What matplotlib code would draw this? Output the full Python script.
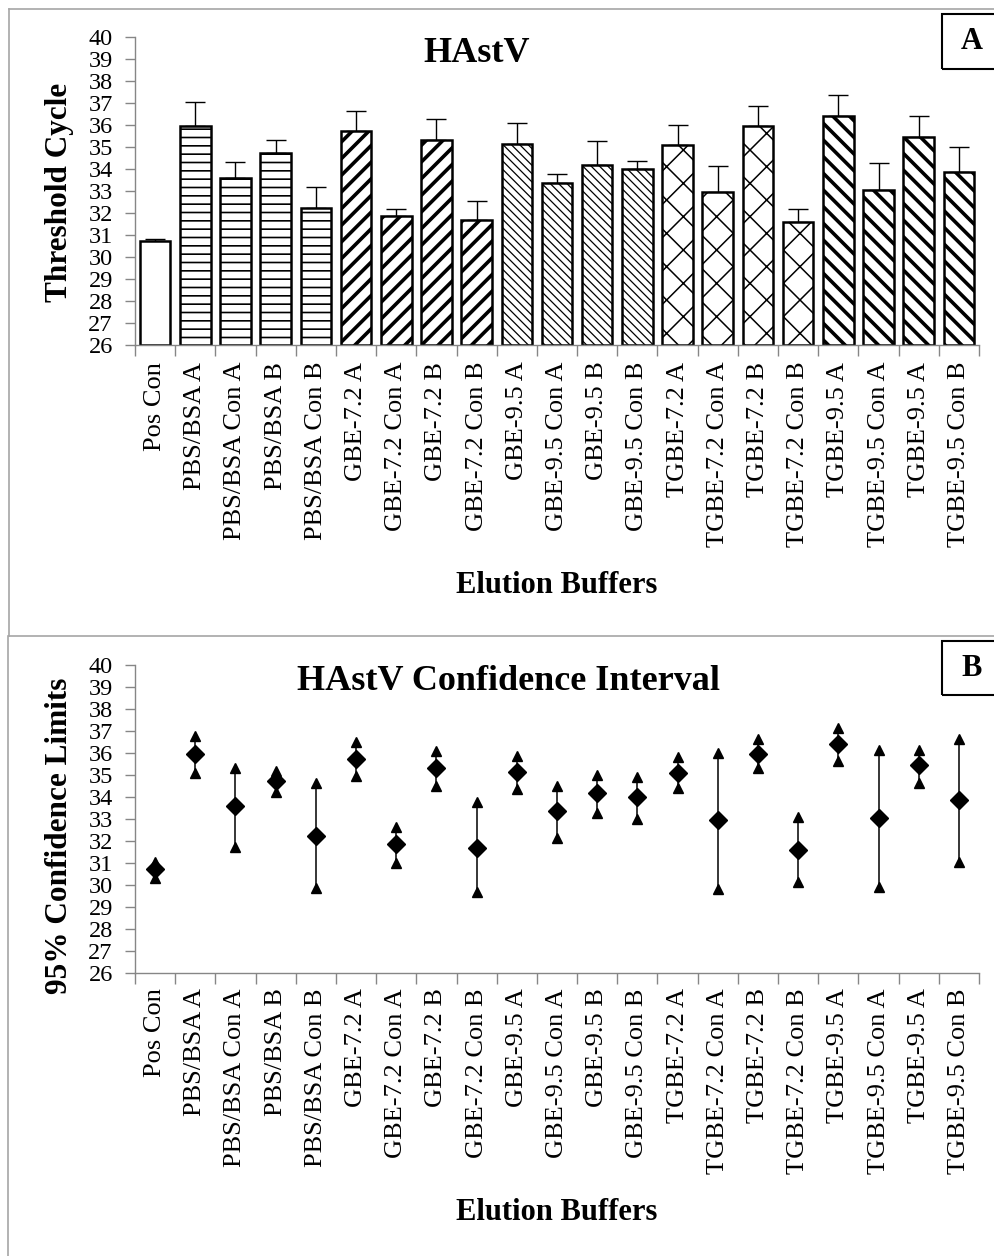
import matplotlib.pyplot as plt
from matplotlib.lines import Line2D
from matplotlib.patches import Rectangle
import numpy as np

plt.rcParams['font.family'] = ['Liberation Serif', 'DejaVu Serif']

buffers = ["Pos Con", "PBS/BSA A", "PBS/BSA Con A", "PBS/BSA B", "PBS/BSA Con B",
           "GBE-7.2 A", "GBE-7.2 Con A", "GBE-7.2 B", "GBE-7.2 Con B",
           "GBE-9.5 A", "GBE-9.5 Con A", "GBE-9.5 B", "GBE-9.5 Con B",
           "TGBE-7.2 A", "TGBE-7.2 Con A", "TGBE-7.2 B", "TGBE-7.2 Con B",
           "TGBE-9.5 A", "TGBE-9.5 Con A", "TGBE-9.5 A", "TGBE-9.5 Con B"]
mean_ct = [30.72, 35.96, 33.57, 34.74, 32.24,
           35.73, 31.88, 35.32, 31.70,
           35.14, 33.35, 34.17, 33.99,
           35.08, 32.94, 35.97, 31.60,
           36.42, 33.05, 35.45, 33.86]
sd_ct = [0.08, 1.07, 0.73, 0.59, 0.95,
         0.91, 0.30, 0.97, 0.83,
         0.95, 0.42, 1.10, 0.36,
         0.91, 1.18, 0.88, 0.59,
         0.94, 1.24, 0.95, 1.14]
ci_upper = [31.05, 36.77, 35.30, 35.20, 34.62,
            36.51, 32.65, 36.09, 33.76,
            35.88, 34.52, 35.00, 34.92,
            35.80, 35.98, 36.64, 33.08,
            37.15, 36.14, 36.14, 36.62]
ci_lower = [30.30, 35.10, 31.74, 34.24, 29.85,
            34.95, 31.01, 34.50, 29.67,
            34.35, 32.12, 33.29, 33.00,
            34.41, 29.80, 35.33, 30.15,
            35.64, 29.92, 34.62, 31.06]

# fill patterns per group
hatches = [''] + ['--'] * 4 + ['//'] * 4 + ['\\\\\\\\'] * 4 + ['x'] * 4 + ['\\\\'] * 4
hatch_lw = [1.0] + [1.2] * 4 + [2.6] * 4 + [0.9] * 4 + [1.1] * 4 + [2.6] * 4

W, H = 995, 1256
fig = plt.figure(figsize=(W / 100, H / 100), dpi=100)
grey = '#868686'


def px_axes(left, top, right, bottom):
    return fig.add_axes([left / W, 1 - bottom / H, (right - left) / W, (bottom - top) / H])


x = np.arange(len(buffers))


def style_axis(ax, label_pad):
    ax.set_xlim(-0.5, len(buffers) - 0.5)
    ax.set_ylim(26, 40)
    ax.set_yticks(range(26, 41))
    ax.set_xticks(np.arange(-0.5, len(buffers)))
    ax.set_xticklabels([])
    ax.set_xticks(x, minor=True)
    ax.set_xticklabels(buffers, minor=True, rotation=90, fontsize=19)
    ax.tick_params(axis='x', which='major', length=8, color=grey, width=1)
    ax.tick_params(axis='x', which='minor', length=0, pad=label_pad)
    ax.tick_params(axis='y', length=7, color=grey, width=1, labelsize=17.5, pad=9)
    for s in ['top', 'right']:
        ax.spines[s].set_visible(False)
    for s in ['left', 'bottom']:
        ax.spines[s].set_color(grey)
        ax.spines[s].set_linewidth(1)


# Panel A: bar chart
ax1 = px_axes(135, 37, 979, 345)
bars = ax1.bar(x, np.array(mean_ct) - 26, bottom=26, width=0.76, color='white',
               edgecolor='black', linewidth=1.8, zorder=2)
for b, h, lw in zip(bars, hatches, hatch_lw):
    b.set_hatch(h)
    if hasattr(b, 'set_hatch_linewidth'):
        b.set_hatch_linewidth(lw)
ax1.errorbar(x, mean_ct, yerr=[np.zeros(len(sd_ct)), sd_ct], fmt='none',
             ecolor='black', elinewidth=1, capsize=7, capthick=1, zorder=1)
style_axis(ax1, 12)

# Panel B: confidence intervals
ax2 = px_axes(135, 665, 979, 973)
ax2.vlines(x, ci_lower, ci_upper, color='black', linewidth=1.1)
ax2.plot(x, ci_upper, '^', color='black', ms=7, ls='none')
ax2.plot(x, ci_lower, '^', color='black', ms=7, ls='none')
ax2.plot(x, mean_ct, 'D', color='black', ms=9.5, ls='none')
style_axis(ax2, 11)

# titles and labels
fig.text(477 / W, 1 - 53 / H, 'HAstV', fontsize=26, fontweight='bold', ha='center', va='center')
fig.text(509 / W, 1 - 681 / H, 'HAstV Confidence Interval', fontsize=26, fontweight='bold',
         ha='center', va='center')
fig.text(60 / W, 1 - 192 / H, 'Threshold Cycle', rotation=90, fontsize=22.5, fontweight='bold',
         ha='center', va='center')
fig.text(60 / W, 1 - 836 / H, '95% Confidence Limits', rotation=90, fontsize=22.5,
         fontweight='bold', ha='center', va='center')
fig.text(557 / W, 1 - 586 / H, 'Elution Buffers', fontsize=22, fontweight='bold',
         ha='center', va='center')
fig.text(557 / W, 1 - 1213 / H, 'Elution Buffers', fontsize=22, fontweight='bold',
         ha='center', va='center')

# panel letter boxes
for top, bottom, letter in [(14, 69, 'A'), (641, 695, 'B')]:
    fig.add_artist(Rectangle((942 / W, 1 - bottom / H), 70 / W, (bottom - top) / H,
                             transform=fig.transFigure, fill=False, ec='black', lw=1.5))
    fig.text(972 / W, 1 - (top + bottom) / 2 / H, letter, fontsize=22, fontweight='bold',
             ha='center', va='center')

# panel borders
border = '#a6a6a6'
for xs, ys in [([9, 9], [9, 636]), ([9, 995], [9, 9]), ([9, 995], [636, 636]),
               ([8, 8], [636, 1256])]:
    fig.add_artist(Line2D([v / W for v in xs], [1 - v / H for v in ys],
                          transform=fig.transFigure, color=border, lw=1.2))

fig.savefig('out.png', dpi=100)
